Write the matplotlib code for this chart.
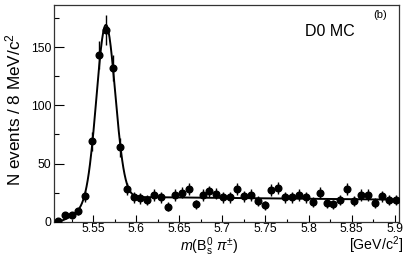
import numpy as np
import matplotlib
matplotlib.use("Agg")
import matplotlib.pyplot as plt

plt.rcParams["font.family"] = ["Liberation Sans", "DejaVu Sans"]
plt.rcParams["mathtext.fontset"] = "custom"
plt.rcParams["mathtext.rm"] = "Liberation Sans"
plt.rcParams["mathtext.it"] = "Liberation Sans:italic"
plt.rcParams["mathtext.sf"] = "Liberation Sans"

# histogram: 50 bins of 8 MeV from 5.505 to 5.905
bin_lo = 5.505
bin_width = 0.008
counts = [1, 6, 6, 9, 22, 69, 143, 165, 132, 64,
          28, 21, 20, 19, 23, 21, 13, 23, 25, 28,
          15, 23, 26, 24, 21, 21, 28, 22, 23, 18,
          14, 27, 29, 21, 21, 23, 21, 17, 25, 16,
          15, 19, 28, 18, 23, 23, 16, 22, 19, 19]

# fit curve parameters (signal gaussian + threshold background)
sig_mean = 5.5648
sig_width = 0.0108
sig_height = 150.0
bkg_level = 21.2
bkg_slope = 0.35
bkg_turn_on = 0.04

counts = np.array(counts, dtype=float)
centers = bin_lo + bin_width * (np.arange(len(counts)) + 0.5)
errors = np.sqrt(counts)

xf = np.linspace(bin_lo, bin_lo + bin_width * len(counts), 600)
bkg = bkg_level * (1 - np.exp(-((xf - bin_lo) / bkg_turn_on) ** 2)) * (1 - bkg_slope * (xf - 5.6))
fit = bkg + sig_height * np.exp(-0.5 * ((xf - sig_mean) / sig_width) ** 2)

fig = plt.figure(figsize=(4.07, 2.61), dpi=100)
ax = fig.add_axes([0.1334, 0.1506, 0.8469, 0.8314])

ax.plot(xf, fit, color="black", lw=1.4, zorder=2)
ax.errorbar(centers, counts, yerr=errors, fmt="o", color="black",
            ms=4.8, elinewidth=1.0, capsize=0, zorder=3)

ax.set_xlim(5.505, 5.905)
ax.set_ylim(0, 186.5)
ax.set_xticks([5.55, 5.6, 5.65, 5.7, 5.75, 5.8, 5.85, 5.9])
ax.set_xticklabels(["5.55", "5.6", "5.65", "5.7", "5.75", "5.8", "5.85", "5.9"])
ax.set_xticks(np.arange(5.525, 5.905, 0.05), minor=True)
ax.set_yticks([0, 50, 100, 150])
ax.set_yticks([25, 75, 125, 175], minor=True)
ax.tick_params(axis="both", which="both", direction="in", labelsize=8.8, width=0.8)
ax.tick_params(axis="x", which="major", length=4.7, pad=1.0)
ax.tick_params(axis="x", which="minor", length=2.4)
ax.tick_params(axis="y", which="major", length=7.5, pad=2)
ax.tick_params(axis="y", which="minor", length=3.8)
for sp in ax.spines.values():
    sp.set_linewidth(0.9)
    sp.set_color("#333333")

fig.text(13.5 / 407, 1 - 110 / 261, "N events / 8 MeV/c$^2$", rotation=90,
         ha="center", va="center", fontsize=12.3)
fig.text(209.5 / 407, 1 - 250.5 / 261, r"$m$(B$^0_\mathrm{s}$ $\pi^{\pm}$)",
         ha="center", va="baseline", fontsize=10.3)
fig.text(403 / 407, 1 - 250.5 / 261, "[GeV/c$^2$]", ha="right", va="baseline", fontsize=10.2)
fig.text(330 / 407, 1 - 31 / 261, "D0 MC", ha="center", va="center", fontsize=11.5)
fig.text(380.5 / 407, 1 - 14.5 / 261, "(b)", ha="center", va="center", fontsize=8)

fig.savefig("out.png", dpi=100)
